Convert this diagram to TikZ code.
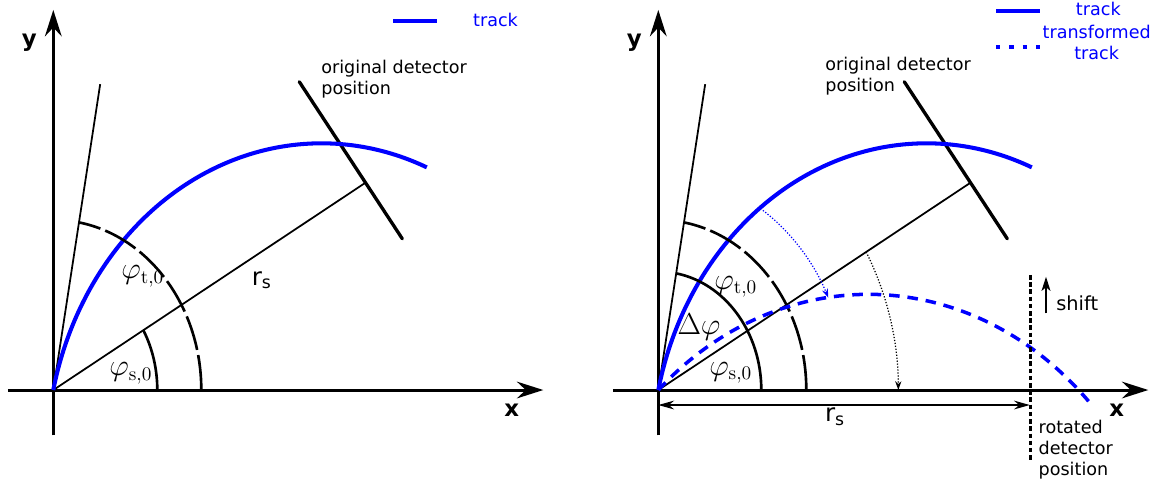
\documentclass[tikz,border=0pt]{standalone}
\usepackage[no-math]{fontspec}
\newfontfamily\dejavu{DejaVu Sans}
\usepackage{tikz}
\usetikzlibrary{arrows.meta, positioning, calc}
\usepackage{xcolor}
\definecolor{trackblue}{HTML}{0000FF}

\begin{document}
\begin{tikzpicture}[
  yscale=1.15,
  every node/.style={font=\dejavu},
  axis/.style={line width=1.7pt,
    -{Stealth[length=15pt, width=9.5pt, inset=5pt]}},
  thinline/.style={line width=1pt},
  anglearc/.style={line width=1.5pt},
  track/.style={trackblue, line width=2.3pt},
  trafotrack/.style={trackblue, line width=2pt,
    dash pattern=on 6pt off 4.5pt},
  detector/.style={line width=1.9pt, line cap=round},
  axislabel/.style={font=\dejavu\fontsize{13}{15}\selectfont\bfseries},
  anglelabel/.style={font=\fontsize{16}{19}\selectfont, inner sep=0pt},
  rslabel/.style={font=\dejavu\fontsize{14}{16}\selectfont},
  plaintext/.style={align=left, inner sep=0pt, anchor=west},
  legendtext/.style={text=trackblue, align=center, inner sep=0pt},
  >=Stealth
]
  \useasboundingbox (-1.066,-1.67) rectangle (22.174,6.783);

  % Common parts of both panels
  \foreach \ox/\pn in {0/L, 12.1/R} {
    \begin{scope}[xshift=\ox cm]
      \coordinate (O\pn) at (0,0);
      % Axes
      \draw[axis] (-0.91,0) -- (9.8,0);
      \draw[axis] (0,-0.79) -- (0,6.61);
      \node[axislabel] (xl\pn) at (9.17,-0.35) {x};
      \node[axislabel] (yl\pn) at (-0.48,6.04) {y};
      % Angle lines
      \coordinate (t\pn) at (80:5.4);
      \coordinate (s\pn) at (30:7.21);
      \draw[thinline] (O\pn) -- (t\pn);
      \draw[thinline] (O\pn) -- (s\pn);
      % Original detector
      \coordinate (d1\pn) at (4.92,5.36);
      \coordinate (d2\pn) at (6.98,2.63);
      \draw[detector] (d1\pn) -- (d2\pn);
      % Track
      \draw[track] (O\pn) arc[start angle=167.3, end angle=67.5, radius=5.5];
      % Dashed angle arc
      \draw[anglearc, dash pattern=on 20pt off 3pt]
        (2.96,0) arc[start angle=0, end angle=80, radius=2.96];
    \end{scope}
  }

  % Left panel
  \draw[anglearc] (2.08,0) arc[start angle=0, end angle=30, radius=2.08];
  \node[anglelabel] (phitL) at (1.79,1.98) {$\varphi_{\mathrm{t},0}$};
  \node[anglelabel] (phisL) at (1.55,0.29) {$\varphi_{\mathrm{s},0}$};
  \node[rslabel] (rsL) at (4.17,1.91) {r\textsubscript{s}};
  \coordinate (leg1L) at (6.8,6.417);
  \coordinate (leg2L) at (7.668,6.417);
  \draw[track] (leg1L) -- (leg2L);
  \node[legendtext] (legtrackL) at (8.844,6.435) {track};
  \node[plaintext] (origL) at (5.354,5.405) {original detector\\position};

  % Right panel
  \draw[anglearc] (14.16,0) arc[start angle=0, end angle=80, radius=2.06];
  \draw[trafotrack] (OR) arc[start angle=133.2, end angle=43, radius=6.14];
  \node[anglelabel] (dphiR) at (12.914,1.101) {$\Delta\varphi$};
  \node[anglelabel] (phitR) at (13.648,1.797) {$\varphi_{\mathrm{t},0}$};
  \node[anglelabel] (phisR) at (13.548,0.301) {$\varphi_{\mathrm{s},0}$};
  % Rotation arrows
  \draw[trackblue, line width=0.7pt, densely dotted,
    -{Stealth[length=5pt, width=3.5pt]}]
    ($(OR)+(56.2:3.76)$) arc[start angle=56.2, end angle=25.3, radius=3.76];
  \draw[line width=0.7pt, densely dotted,
    -{Stealth[length=5pt, width=3.5pt]}]
    ($(OR)+(30:4.8)$) arc[start angle=30, end angle=0, radius=4.8];
  % Rotated detector
  \coordinate (rd1) at (19.548,2.0);
  \coordinate (rd2) at (19.548,-1.247);
  \draw[line width=1.9pt, dash pattern=on 2.6pt off 1.5pt] (rd1) -- (rd2);
  \node[plaintext] (rotR) at (19.7,-1.038)
    {rotated\\detector\\position};
  % r_s dimension
  \coordinate (dimA) at (12.1,-0.261);
  \coordinate (dimB) at (19.53,-0.261);
  \draw[line width=1pt, {Stealth[length=9pt, width=5pt, inset=3pt]}-{Stealth[length=9pt, width=5pt, inset=3pt]}]
    (dimA) -- (dimB);
  \node[rslabel] (rsR) at (15.634,-0.464) {r\textsubscript{s}};
  % Shift
  \coordinate (sh1) at (19.854,1.334);
  \coordinate (sh2) at (19.854,1.97);
  \draw[line width=1.1pt, -{Stealth[length=8pt, width=5pt, inset=2pt]}]
    (sh1) -- (sh2);
  \node[plaintext, font=\dejavu\fontsize{11}{13}\selectfont]
    (shiftR) at (20.054,1.508) {shift};
  \node[plaintext] (origR) at (15.434,5.464) {original detector\\position};
  % Legend
  \coordinate (leg1R) at (18.854,6.597);
  \coordinate (leg2R) at (19.734,6.597);
  \coordinate (leg3R) at (18.854,5.971);
  \coordinate (leg4R) at (19.734,5.971);
  \draw[track] (leg1R) -- (leg2R);
  \draw[track, dash pattern=on 2.45pt off 5.15pt] (leg3R) -- (leg4R);
  \node[legendtext] (legtrackR) at (20.9,6.621) {track};
  \node[legendtext] (legtrafoR) at (20.868,6.038) {transformed\\track};
\end{tikzpicture}
\end{document}
